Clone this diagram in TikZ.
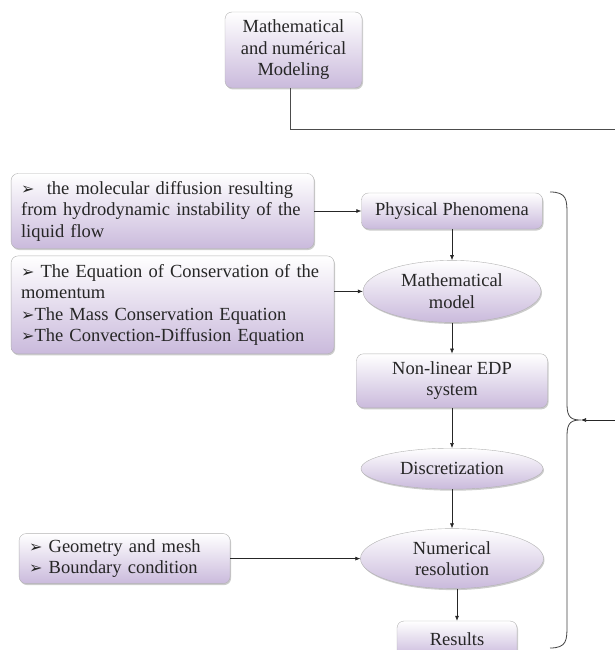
\documentclass[tikz,border=0pt]{standalone}
\usepackage{fontspec}
\setmainfont{Liberation Serif}
\newfontfamily\dingfont{DejaVu Sans}
\usetikzlibrary{positioning,shapes.geometric,arrows.meta,shadows}
\definecolor{lav}{RGB}{202,186,220}
\newcommand{\bul}{{\dingfont\fontsize{16}{16}\selectfont ➢}}

\tikzset{
  blk/.style={draw=black!30, rounded corners=7pt, top color=white, bottom color=lav,
    drop shadow={shadow xshift=1pt, shadow yshift=-1.5pt, opacity=.4},
    font=\fontsize{18.5}{21.5}\selectfont, text=black!85, inner sep=2pt, align=center},
  ell/.style={blk, ellipse, sharp corners},
  inbox/.style={blk, align=left, inner xsep=10pt},
  conn/.style={-{Latex[length=5pt,width=4pt]}, black!85, line width=.6pt},
}

\begin{document}
\begin{tikzpicture}[x=1pt, y=-1pt]
        \useasboundingbox (0,0) rectangle (614,650);
        \node[blk, minimum width=137pt, minimum height=76pt] (model) at (293.5,50) {Mathematical\\and numérical\\Modeling} ; %
        %
        \node[blk, minimum width=181pt, minimum height=36pt] (phen) at (452,211) {Physical Phenomena} ; %
        \node[ell, below = 31pt of phen, minimum width=178pt, minimum height=62pt] (math_m) {Mathematical\\model} ; %
        \node[blk, below = 31pt of math_m, minimum width=191pt, minimum height=54pt] (edp) {Non-linear EDP\\system} ; %
        \node[ell, below = 40pt of edp, minimum width=182pt, minimum height=41pt] (discr) {Discretization} ; %
        \node[ell, below = 39pt of discr, minimum width=183pt, minimum height=60pt] (num_res) {Numerical\\resolution} ; %
        \node[blk, below = 32pt of num_res, xshift=5pt, minimum width=120pt, minimum height=36pt] (results) {Results} ; %
        %
        \node[inbox, left = 47pt of phen, text width=283pt, minimum height=75pt] (in_diff) {\bul\ \ the molecular diffusion resulting\\from hydrodynamic instability of the\\liquid flow} ; %
        \node[inbox, below = 7pt of in_diff.south west, anchor=north west, text width=303pt, minimum height=98pt] (in_eq) {\bul\ The Equation of Conservation of the\\momentum\\\bul The Mass Conservation Equation\\\bul The Convection-Diffusion Equation} ; %
        \node[inbox, left = 130pt of num_res, text width=191pt, minimum height=50pt] (in_geo) {\bul\ Geometry and mesh\\\bul\ Boundary condition} ; %
        %
        \coordinate (c_top) at (617,130) ; %
        \coordinate (c_side) at (617,420) ; %
        \coordinate (b_tip) at (581,420) ; %
        \draw[black!75, line width=.8pt] (550,192) .. controls (567,192) and (567,200) .. (567,215) -- (567,405)
          .. controls (567,418) and (572,420) .. (b_tip) .. controls (572,420) and (567,422) .. (567,435)
          -- (567,625) .. controls (567,640) and (567,648) .. (550,648) ; %
        %
        \draw[black!70, line width=1pt] (model.south -| 290,0) |- (c_top) -- (c_side) ; %
        \draw[conn] (c_side) -- (b_tip) ; %
        \draw[conn] (in_diff) -- (phen) ; %
        \draw[conn] (in_eq.east |- math_m.west) -- (math_m.west) ; %
        \draw[conn] (in_geo) -- (num_res) ; %
        \draw[conn] (phen) -- (math_m) ; %
        \draw[conn] (math_m) -- (edp) ; %
        \draw[conn] (edp) -- (discr) ; %
        \draw[conn] (discr) -- (num_res) ; %
        \draw[conn] (results.north |- num_res.south) -- (results.north) ; %
\end{tikzpicture}
\end{document}
